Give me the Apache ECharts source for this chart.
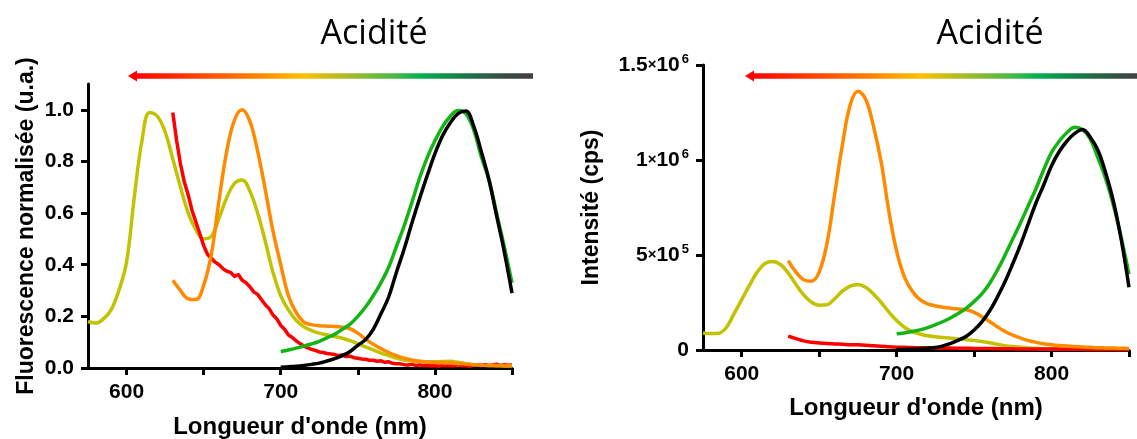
<!DOCTYPE html>
<html>
<head>
<meta charset="utf-8">
<script src="https://cdn.jsdelivr.net/npm/echarts@6/dist/echarts.min.js"></script>
<style>
html,body{margin:0;padding:0;background:#fff;}
#chart{width:1137px;height:439px;}
</style>
</head>
<body>
<div id="chart"></div>
<script>
// ---------- DATA ----------
const titleText = 'Acidité';
const xName = "Longueur d'onde (nm)";
const yNameLeft = 'Fluorescence normalisée (u.a.)';
const yNameRight = 'Intensité (cps)';

const xTicks = [600, 650, 700, 750, 800, 850];
const xTickLabels = [600, 700, 800];
const yTicksLeft = [0, 0.2, 0.4, 0.6, 0.8, 1.0];
const yTicksRight = [0, 500000, 1000000, 1500000];

// Left panel (normalised), wavelengths start/step per series
const leftOliveStart = 575, leftOliveStep = 5;
const leftOlive = [0.18,0.174,0.19,0.225,0.30,0.41,0.66,0.88,0.99,0.975,0.915,0.81,0.70,0.60,0.535,0.50,0.51,0.58,0.66,0.715,0.728,0.685,0.60,0.49,0.37,0.28,0.225,0.185,0.16,0.145,0.135,0.128,0.122,0.115,0.106,0.094,0.082,0.07,0.058,0.048,0.038,0.031,0.027,0.025,0.024,0.024,0.025,0.026,0.022,0.017,0.013,0.011,0.01,0.009,0.008,0.008];

const leftOrangeStart = 630, leftOrangeStep = 5;
const leftOrange = [0.34,0.30,0.268,0.265,0.32,0.44,0.65,0.84,0.96,1.0,0.955,0.84,0.69,0.53,0.40,0.28,0.215,0.178,0.168,0.164,0.162,0.161,0.158,0.152,0.135,0.112,0.092,0.075,0.06,0.048,0.038,0.031,0.026,0.023,0.021,0.02,0.019,0.017,0.015,0.013,0.011,0.01,0.01,0.009,0.009];

const leftRedStart = 630, leftRedStep = 2.5;
const leftRed = [0.99,0.88,0.79,0.72,0.67,0.61,0.565,0.52,0.475,0.44,0.425,0.41,0.40,0.385,0.375,0.37,0.355,0.362,0.34,0.33,0.315,0.295,0.285,0.265,0.245,0.23,0.205,0.19,0.165,0.15,0.128,0.118,0.105,0.095,0.085,0.078,0.072,0.068,0.062,0.06,0.056,0.054,0.052,0.048,0.05,0.044,0.046,0.04,0.038,0.035,0.034,0.03,0.03,0.026,0.028,0.022,0.024,0.018,0.016,0.016,0.013,0.012,0.014,0.01,0.012,0.009,0.011,0.008,0.01,0.007,0.011,0.009,0.01,0.008,0.012,0.009,0.01,0.007,0.011,0.012,0.009,0.013,0.01,0.012,0.015,0.009,0.013,0.011,0.012];

const leftGreenStart = 700, leftGreenStep = 5;
const leftGreen = [0.064,0.07,0.077,0.085,0.093,0.103,0.117,0.131,0.15,0.17,0.2,0.236,0.28,0.33,0.39,0.47,0.55,0.64,0.735,0.815,0.88,0.935,0.975,0.997,0.985,0.925,0.82,0.73,0.6,0.47,0.33];

const leftBlackStart = 700, leftBlackStep = 5;
const leftBlack = [0.003,0.005,0.007,0.01,0.014,0.019,0.027,0.036,0.048,0.064,0.088,0.11,0.15,0.21,0.275,0.37,0.46,0.56,0.655,0.745,0.83,0.9,0.95,0.985,0.995,0.94,0.84,0.73,0.59,0.45,0.29];

// Right panel (cps)
const rightOliveStart = 575, rightOliveStep = 5;
const rightOlive = [90000,87000,88000,118000,190000,265000,340000,410000,455000,466000,450000,405000,345000,290000,252000,236000,238000,270000,310000,336000,345000,330000,295000,250000,200000,155000,120000,97000,84000,75000,70000,66000,62000,58000,54000,50000,45000,38000,30000,23000,18000,14000,11000,9000,7000,6000,5000,4500,4000,3500,3000,3000,2500,2500,2000,2000];

const rightOrangeStart = 630, rightOrangeStep = 5;
const rightOrange = [470000,410000,370000,362000,410000,560000,820000,1080000,1290000,1362000,1320000,1180000,990000,730000,520000,385000,310000,265000,243000,232000,225000,220000,216000,212000,198000,175000,150000,122000,97000,78000,63000,50000,40000,33000,28000,24000,21000,18000,16000,14000,12000,11000,10000,9000,8000];

const rightRedStart = 630, rightRedStep = 5;
const rightRed = [73000,60000,48000,41000,37000,34000,32000,30000,28000,27000,25000,22000,20000,17000,15000,14000,13000,12000,11500,11000,10500,10000,9500,9000,8500,8000,7500,7000,6500,6000,5800,5500,5200,5000,4800,4600,4400,4200,4000,3800,3600,3500,3300,3200,3000];

const rightGreenStart = 700, rightGreenStep = 5;
const rightGreen = [85000,90000,97000,106000,118000,133000,150000,170000,193000,220000,255000,295000,350000,420000,500000,585000,670000,760000,850000,950000,1040000,1100000,1145000,1172000,1160000,1110000,1010000,900000,760000,590000,400000];

const rightBlackStart = 700, rightBlackStep = 5;
const rightBlack = [2000,3000,4000,6000,9000,13000,22000,35000,52000,72000,105000,148000,205000,278000,360000,455000,555000,665000,775000,870000,970000,1045000,1100000,1140000,1160000,1120000,1050000,930000,780000,580000,330000];

// ---------- BUILD ----------
function pairs(start, step, vals) {
  return vals.map((v, i) => [start + i * step, v]);
}
const C = {olive:'#c2c200', red:'#ff0000', orange:'#ff8a00', green:'#14b414', black:'#000000'};
function line(name, color, data, xi, yi, smooth) {
  return {name, type:'line', xAxisIndex:xi, yAxisIndex:yi, data, showSymbol:false, symbol:'none',
    smooth:smooth, lineStyle:{color, width:3.5, join:'round', cap:'butt'}, itemStyle:{color},
    animation:false, silent:true};
}
const tickFont = {fontFamily:'Liberation Sans, Arial, sans-serif', fontWeight:'bold', fontSize:21, color:'#000'};
const nameFont = {fontFamily:'Liberation Sans, Arial, sans-serif', fontWeight:'bold', color:'#000'};

function xAxisDef(gi) {
  return {type:'value', gridIndex:gi, min:575, max:850,
    name:xName, nameLocation:'middle', nameGap: gi===0 ? 47 : 46,
    nameTextStyle:Object.assign({fontSize:24}, nameFont),
    axisLine:{show:true, onZero:false, lineStyle:{color:'#000', width:3}},
    axisTick:{show:true, inside:false, length:7, lineStyle:{color:'#000', width:3}, customValues:xTicks},
    axisLabel:Object.assign({margin:14, customValues:xTickLabels}, tickFont),
    splitLine:{show:false}};
}

function sciFmt(v) {
  if (v === 0) return '{b|0}';
  const e = Math.floor(Math.log10(v) + 1e-9);
  const m = Math.round(v / Math.pow(10, e) * 10) / 10;
  return '{b|' + m + '}{x|×}{b|10}{s|' + e + '}';
}

const option = {
  backgroundColor:'#fff',
  animation:false,
  grid:[
    {left:88, right:625, top:84, bottom:71, outerBoundsMode:'none', containLabel:false},
    {left:703, right:8, top:65, bottom:89, outerBoundsMode:'none', containLabel:false}
  ],
  xAxis:[xAxisDef(0), xAxisDef(1)],
  yAxis:[
    {type:'value', gridIndex:0, min:0, max:1.1,
      name:yNameLeft, nameLocation:'middle', nameGap:50,
      nameTextStyle:Object.assign({fontSize:23}, nameFont),
      axisLine:{show:true, onZero:false, lineStyle:{color:'#000', width:3}},
      axisTick:{show:true, length:7, lineStyle:{color:'#000', width:3}, customValues:yTicksLeft},
      axisLabel:Object.assign({margin:14, customValues:yTicksLeft, formatter:v=>v.toFixed(1)}, tickFont),
      splitLine:{show:false}},
    {type:'value', gridIndex:1, min:0, max:1500000,
      name:yNameRight, nameLocation:'middle', nameGap:100,
      nameTextStyle:Object.assign({fontSize:23}, nameFont),
      axisLine:{show:true, onZero:false, lineStyle:{color:'#000', width:3}},
      axisTick:{show:true, length:7, lineStyle:{color:'#000', width:3}, customValues:yTicksRight},
      axisLabel:{margin:14, customValues:yTicksRight, formatter:sciFmt,
        rich:{
          b:{fontFamily:'Liberation Sans, Arial, sans-serif', fontWeight:'bold', fontSize:21, color:'#000', lineHeight:24},
          x:{fontFamily:'Liberation Sans, Arial, sans-serif', fontWeight:'bold', fontSize:15, color:'#000', lineHeight:24},
          s:{fontFamily:'Liberation Sans, Arial, sans-serif', fontWeight:'bold', fontSize:13, color:'#000', lineHeight:24, verticalAlign:'top', padding:[0,0,0,2]}
        }},
      splitLine:{show:false}}
  ],
  series:[
    line('olive', C.olive, pairs(leftOliveStart, leftOliveStep, leftOlive), 0, 0, 0.4),
    line('red', C.red, pairs(leftRedStart, leftRedStep, leftRed), 0, 0, false),
    line('orange', C.orange, pairs(leftOrangeStart, leftOrangeStep, leftOrange), 0, 0, 0.4),
    line('green', C.green, pairs(leftGreenStart, leftGreenStep, leftGreen), 0, 0, 0.4),
    line('black', C.black, pairs(leftBlackStart, leftBlackStep, leftBlack), 0, 0, 0.4),
    line('olive2', C.olive, pairs(rightOliveStart, rightOliveStep, rightOlive), 1, 1, 0.4),
    line('red2', C.red, pairs(rightRedStart, rightRedStep, rightRed), 1, 1, 0.4),
    line('orange2', C.orange, pairs(rightOrangeStart, rightOrangeStep, rightOrange), 1, 1, 0.4),
    line('green2', C.green, pairs(rightGreenStart, rightGreenStep, rightGreen), 1, 1, 0.4),
    line('black2', C.black, pairs(rightBlackStart, rightBlackStep, rightBlack), 1, 1, 0.4)
  ]
};

function arrowGradient() {
  return new echarts.graphic.LinearGradient(0, 0, 1, 0, [
    {offset:0, color:'#ff0000'},
    {offset:0.18, color:'#ff4a00'},
    {offset:0.30, color:'#ff8000'},
    {offset:0.42, color:'#ffc000'},
    {offset:0.55, color:'#9cbb2c'},
    {offset:0.65, color:'#4cb848'},
    {offset:0.72, color:'#00b050'},
    {offset:0.85, color:'#1f6e45'},
    {offset:0.93, color:'#3a4a42'},
    {offset:1, color:'#404040'}
  ]);
}
function arrow(x0, x1, y) {
  return [
    {type:'rect', shape:{x:x0+6, y:y-2.7, width:x1-x0-6, height:5.4}, style:{fill:arrowGradient()}, silent:true},
    {type:'polygon', shape:{points:[[x0, y], [x0+9, y-5.5], [x0+9, y+5.5]]}, style:{fill:'#ff0000'}, silent:true}
  ];
}
const titleStyle = {fontFamily:'Open Sans, Noto Sans, sans-serif', fontSize:34, fill:'#000', align:'center', verticalAlign:'middle'};
option.graphic = [
  {type:'text', x:374, y:34, style:Object.assign({text:titleText}, titleStyle), silent:true},
  {type:'text', x:990, y:34, style:Object.assign({text:titleText}, titleStyle), silent:true}
].concat(arrow(128, 533, 76)).concat(arrow(745, 1150, 76));

const chart = echarts.init(document.getElementById('chart'), null, {renderer:'canvas'});
chart.setOption(option);
</script>
</body>
</html>
